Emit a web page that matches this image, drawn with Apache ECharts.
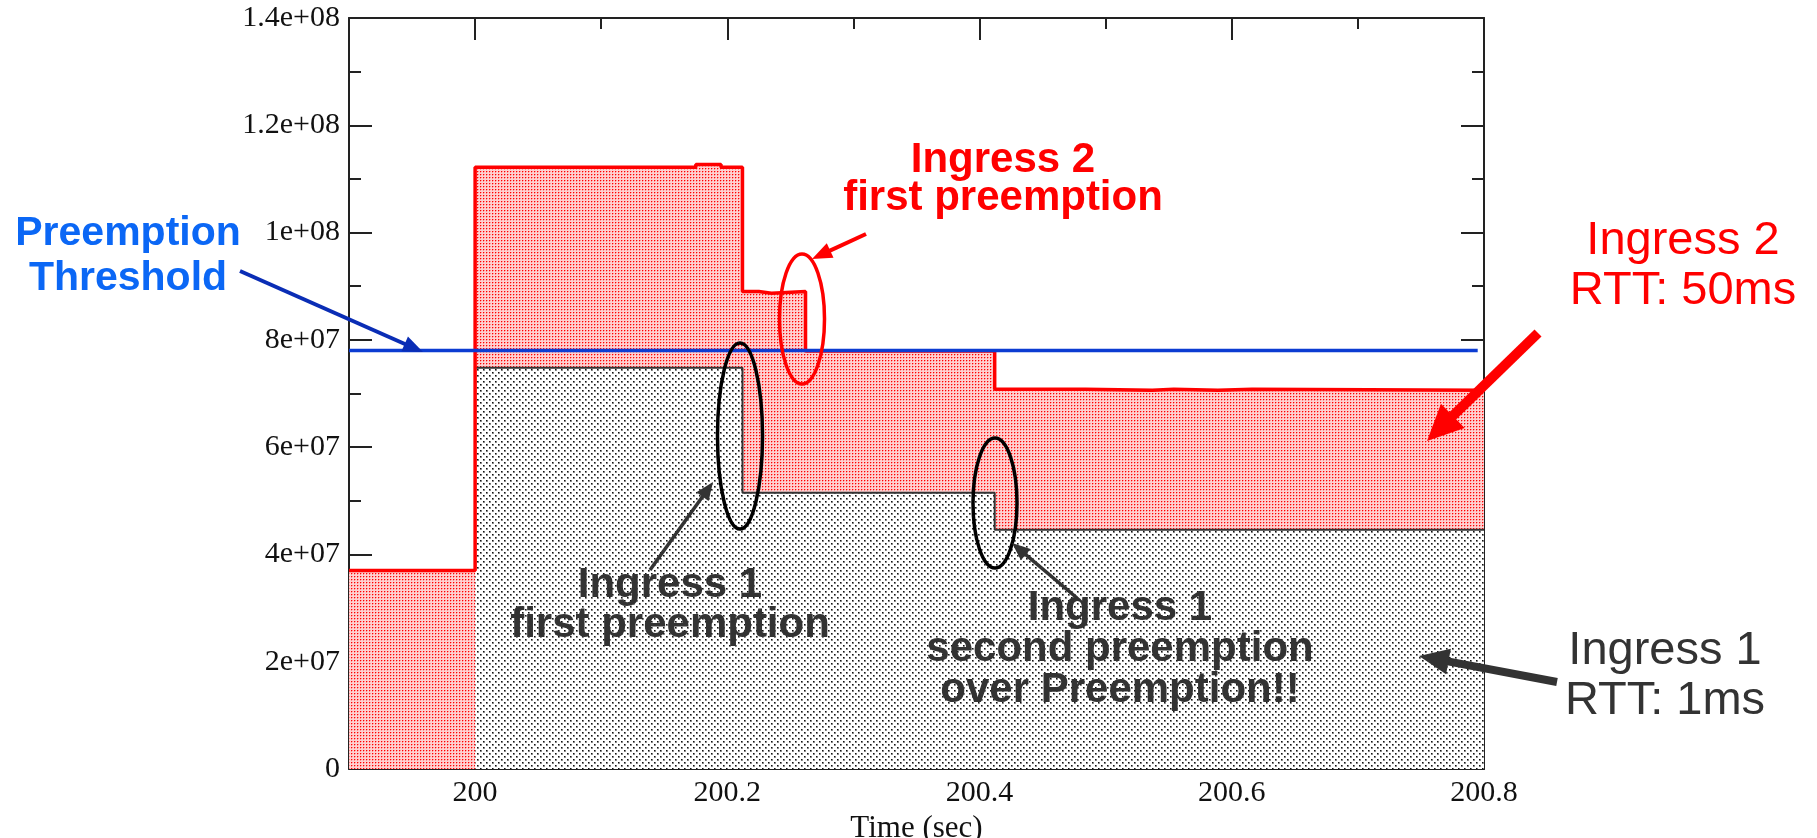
<!DOCTYPE html>
<html><head><meta charset="utf-8">
<script src="https://cdn.jsdelivr.net/npm/echarts@6/dist/echarts.min.js"></script>
<style>html,body{margin:0;padding:0;background:#fff;}#c{width:1817px;height:838px;}</style>
</head><body><div id="c"></div>
<script>
// ---- data ----
// start time of each step (sec); each value holds until the next time
const timeSteps = [199.9, 200.0, 200.175, 200.195, 200.212, 200.225, 200.235, 200.262, 200.412, 200.484, 200.537, 200.554, 200.589, 200.616, 200.8];
// Ingress 1 (RTT 1ms) rate, bottom layer
const ingress1 = [null, 7.48e7, 7.48e7, 7.48e7, 5.15e7, 5.15e7, 5.15e7, 5.15e7, 4.46e7, 4.46e7, 4.46e7, 4.46e7, 4.46e7, 4.46e7, 4.46e7];
// Ingress 2 (RTT 50ms) rate, stacked on Ingress 1
const ingress2 = [3.70e7, 3.74e7, 3.79e7, 3.74e7, 3.75e7, 3.72e7, 3.75e7, 2.64e7, 2.62e7, 2.60e7, 2.62e7, 2.60e7, 2.62e7, 2.60e7, 2.60e7];
const preemptionThreshold = 7.8e7;
const thresholdSpan = [199.9, 200.795];
const xMajorTicks = [200, 200.2, 200.4, 200.6, 200.8];
const xMinorTicks = [200.1, 200.3, 200.5, 200.7];
const xTickLabels = ['200', '200.2', '200.4', '200.6', '200.8'];
const yTickLabels = ['0', '2e+07', '4e+07', '6e+07', '8e+07', '1e+08', '1.2e+08', '1.4e+08'];

// ---- build ----
const totalRate = ingress2.map((v, i) => v + (ingress1[i] || 0));
const pts = arr => timeSteps.map((t, i) => [t, arr[i]]);

function makeTile(w, h, bg, dots) {
  const c = document.createElement('canvas'); c.width = w; c.height = h;
  const g = c.getContext('2d'); g.fillStyle = bg; g.fillRect(0, 0, w, h);
  dots.forEach(d => { g.fillStyle = d[2]; g.fillRect(d[0], d[1], 1, 1); });
  return c;
}
const redTile = makeTile(3, 3, '#ffd0d0', [[0, 0, '#ff0000'], [1, 0, '#ff9090'], [0, 1, '#ff9090']]);
const grayTile = makeTile(6, 6, '#ffffff', [
  [0, 0, '#111'], [1, 0, '#777'], [0, 1, '#777'], [1, 1, '#999'],
  [3, 3, '#111'], [4, 3, '#777'], [3, 4, '#777'], [4, 4, '#999']]);

const serif = 'Liberation Serif', sans = 'Liberation Sans';
const frame = '#222';

function xAxisDef(position, ticks, len, withLine, withLabel) {
  return {
    type: 'value', position: position, min: 199.9, max: 200.8,
    axisLine: { show: withLine, onZero: false, lineStyle: { color: frame, width: 2 } },
    axisTick: { show: true, inside: true, length: len, customValues: ticks, lineStyle: { color: frame, width: 2 } },
    axisLabel: withLabel ? {
      show: true, customValues: xMajorTicks, margin: 9,
      formatter: v => xTickLabels[xMajorTicks.findIndex(t => Math.abs(t - v) < 1e-6)],
      fontFamily: serif, fontSize: 30, color: '#111'
    } : { show: false },
    splitLine: { show: false }
  };
}
function yAxisDef(position, withLabel) {
  return {
    type: 'value', position: position, min: 0, max: 1.4e8, interval: 2e7,
    axisLine: { show: true, onZero: false, lineStyle: { color: frame, width: 2 } },
    axisTick: { show: true, inside: true, length: 23, lineStyle: { color: frame, width: 2 } },
    minorTick: { show: true, splitNumber: 2, length: 12, lineStyle: { color: frame, width: 2 } },
    axisLabel: withLabel ? {
      show: true, margin: 9, formatter: v => yTickLabels[Math.round(v / 2e7)],
      fontFamily: serif, fontSize: 30, color: '#111'
    } : { show: false },
    splitLine: { show: false }, minorSplitLine: { show: false }
  };
}

function arrow(x1, y1, x2, y2, w, headLen, headW, color) {
  const dx = x2 - x1, dy = y2 - y1, L = Math.hypot(dx, dy), ux = dx / L, uy = dy / L;
  const bx = x2 - ux * headLen, by = y2 - uy * headLen, px = -uy, py = ux;
  return [
    { type: 'line', shape: { x1: x1, y1: y1, x2: bx + ux * 2, y2: by + uy * 2 }, style: { stroke: color, lineWidth: w }, z: 100 },
    { type: 'polygon', shape: { points: [[x2, y2], [bx + px * headW / 2, by + py * headW / 2], [bx - px * headW / 2, by - py * headW / 2]] }, style: { fill: color }, z: 100 }
  ];
}
function label(lines, cx, baseline1, fs, lh, color, weight) {
  return {
    type: 'text', x: cx, y: baseline1 - 0.35 * fs - lh / 2, z: 101,
    style: { text: lines.join('\n'), fontSize: fs, fontFamily: sans, fontWeight: weight, fill: color, align: 'center', verticalAlign: 'top', lineHeight: lh }
  };
}
function ring(cx, cy, rx, ry, color) {
  return { type: 'ellipse', shape: { cx: cx, cy: cy, rx: rx, ry: ry }, style: { fill: null, stroke: color, lineWidth: 3.5 }, z: 100 };
}
const dark = '#333333', red = '#ff0000';

const chart = echarts.init(document.getElementById('c'), null, { renderer: 'canvas' });
chart.setOption({
  animation: false,
  backgroundColor: '#ffffff',
  grid: { left: 349, right: 333, top: 18, bottom: 69, containLabel: false, outerBoundsMode: 'none' },
  xAxis: [
    Object.assign(xAxisDef('bottom', xMajorTicks, 22, true, true), {
      name: 'Time (sec)', nameLocation: 'middle', nameGap: 38,
      nameTextStyle: { fontFamily: serif, fontSize: 31, color: '#111' }
    }),
    xAxisDef('top', xMajorTicks, 22, true, false),
    xAxisDef('bottom', xMinorTicks, 11, false, false),
    xAxisDef('top', xMinorTicks, 11, false, false)
  ],
  yAxis: [yAxisDef('left', true), yAxisDef('right', false)],
  series: [
    { name: 'Ingress 2 area', type: 'line', step: 'end', data: pts(totalRate), symbol: 'none', silent: true,
      lineStyle: { width: 0, opacity: 0 }, areaStyle: { color: { image: redTile, repeat: 'repeat' }, opacity: 1 }, z: 1 },
    { name: 'Ingress 1', type: 'line', step: 'end', data: pts(ingress1), symbol: 'none', silent: true,
      lineStyle: { color: dark, width: 2 }, areaStyle: { color: { image: grayTile, repeat: 'repeat' }, opacity: 1 }, z: 2 },
    { name: 'Ingress 2', type: 'line', step: 'end', data: pts(totalRate), symbol: 'none', silent: true,
      lineStyle: { color: red, width: 3.5 }, z: 3 },
    { name: 'Preemption Threshold', type: 'line', data: thresholdSpan.map(t => [t, preemptionThreshold]), symbol: 'none', silent: true,
      lineStyle: { color: '#0c3cd2', width: 3.5 }, z: 4 }
  ],
  graphic: [
    label(['Preemption', 'Threshold'], 128, 248, 41, 45, '#0b67f5', 'bold'),
    ...arrow(240, 271, 423, 352, 4, 20, 16, '#0a2db5'),
    label(['Ingress 2', 'first preemption'], 1003, 175, 42, 38, red, 'bold'),
    ...arrow(866, 234, 812, 259, 4, 20, 16, red),
    ring(802, 319, 22.5, 65, red),
    label(['Ingress 2', 'RTT: 50ms'], 1683, 257, 47, 50, red, 'normal'),
    ...arrow(1538, 333, 1427, 441, 10, 36, 34, red),
    ring(740, 436, 22.5, 93, '#000'),
    label(['Ingress 1', 'first preemption'], 670, 600, 42, 40, dark, 'bold'),
    ...arrow(650, 570, 713, 482, 3.5, 18, 15, dark),
    ring(995, 503, 22, 65, '#000'),
    label(['Ingress 1', 'second preemption', 'over Preemption!!'], 1120, 623, 42, 41, dark, 'bold'),
    ...arrow(1077, 598, 1012, 543, 3.5, 18, 15, dark),
    label(['Ingress 1', 'RTT: 1ms'], 1665, 667, 47, 50, dark, 'normal'),
    ...arrow(1557, 682, 1419, 656, 8, 30, 26, dark)
  ]
});
</script></body></html>
